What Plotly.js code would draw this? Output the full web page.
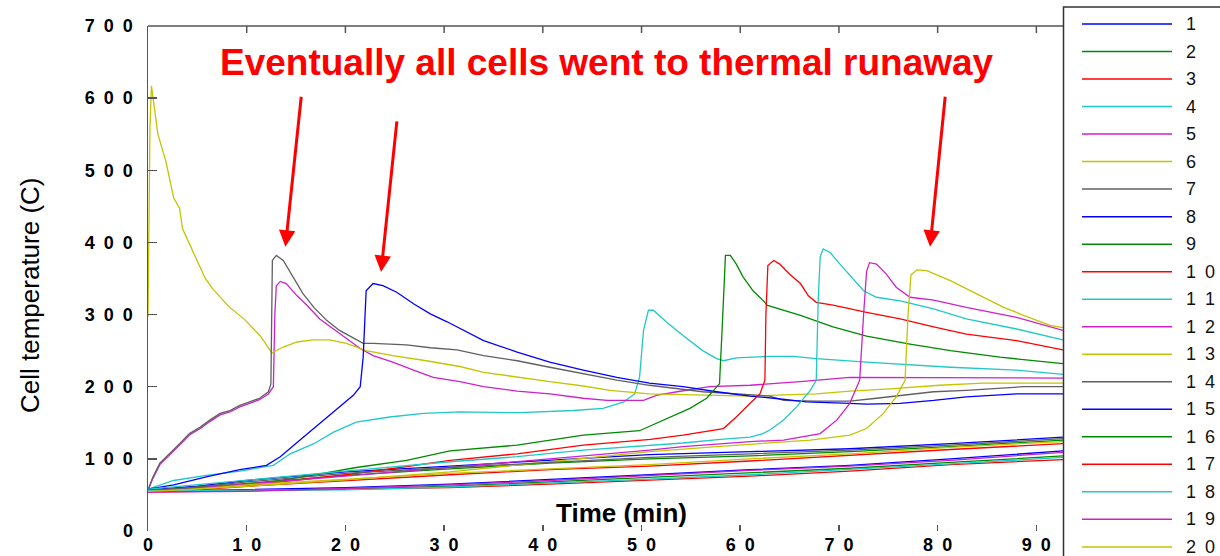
<!DOCTYPE html>
<html><head><meta charset="utf-8">
<script src="https://cdn.plot.ly/plotly-3.0.1.min.js"></script>
<style>html,body{margin:0;padding:0;background:#fff;}#chart{width:1220px;height:556px;}</style>
</head><body><div id="chart"></div>
<script>
// ---- data (time in min, temperature in C) ----
const seriesNames = ['1','2','3','4','5','6','7','8','9','10','11','12','13','14','15','16','17','18','19','20'];
const palette = ['#0000ff','#008a00','#ff0000','#20c8c8','#cc22cc','#c4c400','#606060'];

const xTickVals = [0,10,20,30,40,50,60,70,80,90];
const yTickVals = [0,100,200,300,400,500,600,700];

const tBundle = [0, 5, 10, 20, 30.6, 40.7, 50.8, 61, 71.1, 81.3, 92.7];
const T1  = [57, 62, 70, 82, 90, 98, 106, 110, 114, 121, 130];
const T2  = [56, 60, 66, 77, 86, 94, 100, 104, 110, 117, 126];
const T3  = [55, 57, 62, 70, 78, 85, 90, 97, 105, 113, 121];
const T14 = [56, 61, 68, 80, 88, 95, 102, 107, 112, 119, 128];
const T15 = [55, 56, 57, 60, 65, 72, 78, 85, 91, 100, 111];
const T16 = [55, 55, 56, 58, 62, 68, 74, 80, 87, 95, 104];
const T17 = [54, 55, 55, 57, 60, 65, 70, 76, 83, 92, 99];
const T18 = [56, 56, 56, 57, 61, 66, 72, 78, 85, 93, 102];
const T19 = [54, 54, 55, 59, 64, 70, 77, 84, 90, 98, 109];
const T20 = [55, 58, 64, 72, 80, 86, 92, 100, 107, 116, 124];

const t4 = [0, 2.6, 5.9, 9.3, 12.7, 14.4, 16.8, 18.8, 21.1, 24.5, 27.9, 31.6, 37.7, 43.1, 46.1, 48.2, 49.3, 49.8, 50.2, 50.7, 51.2, 52.5, 54.2, 56.2, 57.6, 58.3, 59.6, 63, 65.4, 67.7, 72.8, 76.2, 81.3, 88, 92.7];
const T4 = [58, 70, 77, 83, 91, 107, 121, 137, 151, 158, 163, 165, 164, 167, 170, 179, 190, 213, 278, 306, 306, 290, 271, 250, 239, 236, 240, 242, 242, 239, 234, 231, 227, 223, 217];

const t5 = [0, 0.5, 1.2, 2.2, 3.2, 4.2, 5.3, 6.3, 7.3, 8.3, 9.3, 10.3, 11.3, 12.2, 12.7, 12.85, 13.0, 13.4, 14.0, 15.1, 16.1, 17.4, 18.8, 20.1, 21.5, 22.8, 24.8, 26.9, 28.9, 31.6, 34, 37.4, 40.7, 44.1, 46.5, 50.2, 51.5, 53.6, 56.9, 61, 66.1, 71.1, 77.9, 89.7, 92.7];
const T5 = [56, 73, 92, 105, 119, 133, 142, 152, 161, 165, 172, 177, 182, 190, 200, 300, 340, 346, 343, 326, 313, 294, 280, 267, 253, 243, 234, 223, 213, 207, 200, 194, 190, 184, 181, 181, 188, 193, 200, 202, 207, 213, 213, 213, 212];

const t6 = [0, 0.05, 0.2, 0.35, 0.55, 1.0, 1.8, 2.6, 3.2, 3.5, 4.2, 5.0, 5.8, 6.6, 8.2, 9.8, 11.4, 12.55, 13.7, 15.1, 16.7, 18.4, 20.1, 22.1, 24.8, 28.2, 31.6, 34, 37.4, 40.7, 44.1, 46.8, 50.8, 55.9, 61, 67.7, 71.1, 75.2, 80.2, 84.6, 92.7];
const T6 = [297, 380, 560, 617, 596, 550, 513, 462, 447, 419, 398, 375, 350, 335, 311, 293, 270, 247, 255, 262, 265, 265, 260, 250, 243, 236, 228, 220, 213, 207, 201, 195, 190, 188, 187, 190, 194, 197, 202, 205, 205];

const t7 = [0, 0.5, 1.2, 2.2, 3.2, 4.2, 5.3, 6.3, 7.3, 8.3, 9.3, 10.3, 11.3, 12.2, 12.45, 12.6, 13.0, 13.7, 14.7, 15.7, 16.8, 18.1, 19.4, 20.8, 21.8, 22.8, 26.2, 28.6, 31.3, 34, 37.4, 40.7, 44.1, 47.5, 50.8, 54.2, 56.2, 63, 64.4, 67.7, 71.1, 73.8, 76.2, 79.6, 82.9, 85.3, 88.7, 92.7];
const T7 = [57, 75, 94, 107, 121, 135, 144, 154, 163, 167, 174, 179, 184, 193, 204, 375, 382, 375, 352, 329, 310, 292, 278, 267, 260, 260, 258, 254, 251, 243, 236, 227, 218, 209, 202, 196, 193, 187, 181, 180, 180, 184, 188, 193, 195, 197, 200, 200];

const t8 = [0, 2.6, 5.9, 9.3, 12, 13.4, 15.4, 17.4, 19.5, 20.8, 21.5, 21.8, 22.1, 22.8, 23.8, 25.2, 26.9, 28.6, 30.3, 34, 37.4, 40.7, 44.1, 47.5, 50.8, 54.2, 57.6, 61, 63.4, 66.7, 71.1, 72.8, 76.2, 79.6, 82.9, 88, 92.7];
const T8 = [58, 64, 75, 85, 91, 103, 126, 149, 172, 188, 200, 241, 333, 343, 340, 331, 315, 301, 290, 264, 248, 234, 223, 213, 205, 200, 193, 187, 184, 179, 177, 176, 177, 181, 186, 190, 190];

const t9 = [0, 5, 9.3, 13.4, 17, 21.1, 26.2, 30.6, 37.4, 44.1, 49.8, 52.5, 54.9, 56.6, 57.9, 58.2, 58.5, 59, 59.6, 60.3, 61.3, 62.5, 62.7, 66.1, 69.4, 72.8, 77.2, 81.3, 86.3, 92.7];
const T9 = [56, 59, 63, 70, 78, 88, 98, 111, 119, 133, 139, 156, 170, 184, 204, 290, 382, 382, 370, 352, 333, 317, 313, 299, 283, 270, 259, 250, 241, 232];

const t10 = [0, 5, 10, 15, 20, 25, 30.6, 37.4, 44.1, 50.9, 54.2, 58.3, 59.6, 61, 62, 62.5, 62.6, 62.8, 63.4, 64, 65, 66.1, 66.9, 67.7, 69.4, 72.8, 76.2, 79.6, 82.9, 88, 92.7];
const T10 = [55, 58, 63, 70, 78, 87, 98, 107, 119, 127, 133, 142, 158, 177, 190, 209, 300, 368, 375, 370, 356, 343, 326, 317, 313, 303, 294, 283, 273, 264, 251];

const t11 = [0, 10, 20, 30.6, 37.4, 44.1, 50.9, 54.2, 58, 61, 62.3, 63, 64.4, 65.7, 67.1, 67.7, 67.9, 68.1, 68.4, 69.1, 70.1, 71.1, 72.5, 73.8, 76.2, 79.6, 82.9, 88, 92.7];
const T11 = [58, 70, 83, 96, 103, 112, 119, 122, 127, 130, 135, 140, 154, 172, 195, 209, 320, 380, 391, 386, 370, 354, 333, 324, 319, 308, 294, 280, 265];

const t12 = [0, 10, 20, 30.6, 40.7, 50.8, 54.2, 61, 64.4, 68.1, 69.8, 71.1, 72.1, 72.5, 72.8, 73.1, 73.8, 74.8, 75.8, 77.2, 79.6, 82.9, 88, 92.7];
const T12 = [56, 65, 76, 88, 100, 112, 117, 124, 126, 135, 154, 177, 209, 300, 360, 372, 370, 356, 338, 324, 320, 310, 296, 278];

const t13 = [0, 10, 20, 30.6, 40.7, 50.9, 57.6, 64.4, 67.1, 71.1, 72.8, 74.5, 75.8, 76.7, 77.0, 77.3, 77.9, 78.9, 81.3, 83.9, 86.7, 88.7, 91.4, 92.7];
const T13 = [55, 62, 71, 82, 96, 110, 117, 124, 126, 133, 142, 163, 186, 209, 300, 355, 362, 361, 347, 329, 310, 299, 285, 282];

// annotation arrows: tip (time, temp) and tail (time, temp)
const arrowTipT  = [13.92, 23.61, 79.23];
const arrowTipY  = [394, 359, 394];
const arrowTailT = [15.54, 25.23, 80.78];
const arrowTailY = [604, 570, 604];

const seriesTimes = [tBundle, tBundle, tBundle, t4, t5, t6, t7, t8, t9, t10, t11, t12, t13,
                     tBundle, tBundle, tBundle, tBundle, tBundle, tBundle, tBundle];
const seriesTemps = [T1, T2, T3, T4, T5, T6, T7, T8, T9, T10, T11, T12, T13,
                     T14, T15, T16, T17, T18, T19, T20];

// ---- layout geometry ----
const W = 1220, H = 556;
const M = {l: 148, r: 157, t: 26, b: 25};
const PW = W - M.l - M.r, PH = H - M.t - M.b;
const px2x = p => (p - M.l) / PW;
const py2y = p => (H - M.b - p) / PH;
const FONT = 'Liberation Sans, Arial, Helvetica, sans-serif';
const spaced = s => String(s).split('').join('\u2002');
const colorOf = i => palette[i % palette.length];

const traces = seriesNames.map((n, i) => ({
  type: 'scatter', mode: 'lines', name: n,
  x: seriesTimes[i], y: seriesTemps[i],
  line: {color: colorOf(i), width: 1.3},
  hoverinfo: 'skip'
}));

const shapes = [
  // top frame line
  {type: 'line', xref: 'paper', yref: 'paper', x0: 0, x1: 1, y0: 1, y1: 1,
   line: {color: '#555', width: 1.5}},
  // legend box
  {type: 'rect', xref: 'paper', yref: 'paper', x0: px2x(1063.5), x1: px2x(1240),
   y0: py2y(570), y1: py2y(7), line: {color: '#333', width: 1.5}, fillcolor: 'rgba(0,0,0,0)'}
];
// inside ticks on the top frame, placed on the x scale
xTickVals.filter(v => v > 0).forEach(v => {
  shapes.push({type: 'line', xref: 'x', yref: 'paper', x0: v, x1: v, y0: 1, y1: 1 - 7 / PH,
    line: {color: '#555', width: 1.5}});
});
const annotations = [
  {xref: 'paper', yref: 'paper', x: px2x(607), y: py2y(63), xanchor: 'center', yanchor: 'middle',
   text: 'Eventually all cells went to thermal runaway', showarrow: false,
   font: {family: FONT, size: 37, color: '#ff0000', weight: 'bold'}},
  {xref: 'paper', yref: 'paper', x: px2x(621), y: py2y(513), xanchor: 'center', yanchor: 'middle',
   text: 'Time (min)', showarrow: false,
   font: {family: FONT, size: 26, color: '#000', weight: 'bold'}},
  {xref: 'paper', yref: 'paper', x: px2x(30), y: py2y(295), xanchor: 'center', yanchor: 'middle',
   text: 'Cell temperature (C)', textangle: -90, showarrow: false,
   font: {family: FONT, size: 26, color: '#000'}}
];
arrowTipT.forEach((_, k) => {
  annotations.push({xref: 'x', yref: 'y', axref: 'x', ayref: 'y',
    x: arrowTipT[k], y: arrowTipY[k], ax: arrowTailT[k], ay: arrowTailY[k],
    text: '', showarrow: true, arrowhead: 2, arrowsize: 1.1, arrowwidth: 3,
    arrowcolor: '#ff0000', standoff: 0, startstandoff: 0});
});
seriesNames.forEach((n, i) => {
  const yc = py2y(24 + i * 27.52);
  shapes.push({type: 'line', xref: 'paper', yref: 'paper', x0: px2x(1082), x1: px2x(1172),
    y0: yc, y1: yc, line: {color: colorOf(i), width: 1.5}});
  annotations.push({xref: 'paper', yref: 'paper', x: px2x(1184), y: yc, xanchor: 'left',
    yanchor: 'middle', text: spaced(n), showarrow: false,
    font: {family: FONT, size: 18, color: '#111'}});
});

const tickFont = {family: FONT, size: 18, color: '#000', weight: 'bold'};
const layout = {
  width: W, height: H, margin: M, showlegend: false,
  paper_bgcolor: '#fff', plot_bgcolor: '#fff',
  xaxis: {range: [0, 92.7], tickmode: 'array', tickvals: xTickVals, ticktext: xTickVals.map(spaced),
    ticks: 'inside', ticklen: 6, tickwidth: 1.5, tickcolor: '#555',
    showline: false, showgrid: false, zeroline: false, tickfont: tickFont, ticklabelstandoff: 1},
  yaxis: {range: [0, 700], tickmode: 'array', tickvals: yTickVals, ticktext: yTickVals.map(spaced),
    ticks: 'inside', ticklen: 9, tickwidth: 1.5, tickcolor: '#555',
    showline: true, linecolor: '#555', linewidth: 1.5,
    showgrid: false, zeroline: false, tickfont: tickFont, ticklabelstandoff: 10},
  shapes: shapes, annotations: annotations
};
Plotly.newPlot('chart', traces, layout, {staticPlot: true, displayModeBar: false});
</script>
</body></html>
